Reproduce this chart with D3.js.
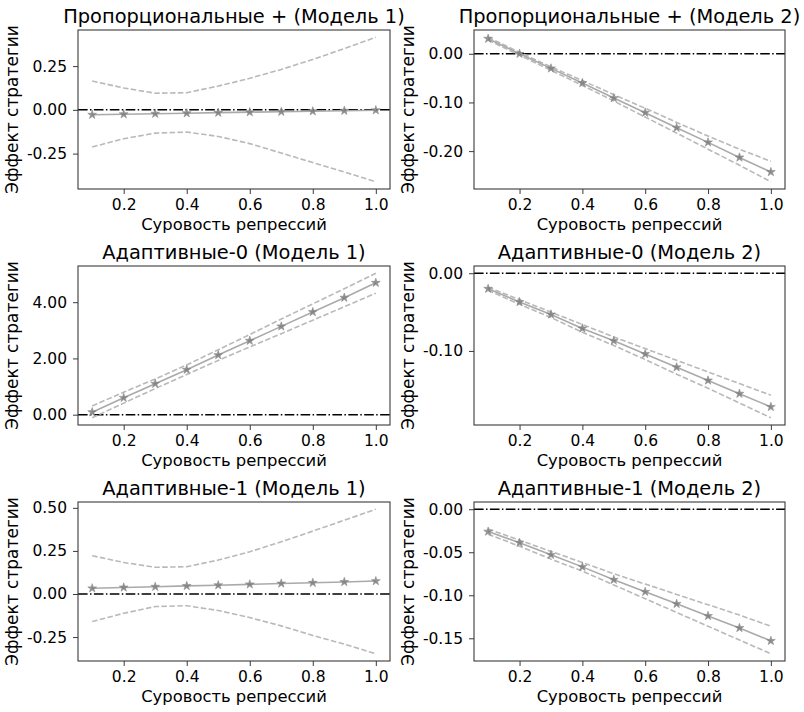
<!DOCTYPE html>
<html>
<head>
<meta charset="utf-8">
<script src="https://cdn.jsdelivr.net/npm/d3@7"></script>
<style>
  body { margin: 0; background: #fff; }
  svg { display: block; font-family: "DejaVu Sans", sans-serif; }
</style>
</head>
<body>
<svg id="chart" width="804" height="712"></svg>
<script>
// ---- data ----
const severity = [0.1, 0.2, 0.3, 0.4, 0.5, 0.6, 0.7, 0.8, 0.9, 1.0];
const xTicks = [0.2, 0.4, 0.6, 0.8, 1.0];

const titles = [
  "Пропорциональные + (Модель 1)", "Пропорциональные + (Модель 2)",
  "Адаптивные-0 (Модель 1)", "Адаптивные-0 (Модель 2)",
  "Адаптивные-1 (Модель 1)", "Адаптивные-1 (Модель 2)"
];
const xLabel = "Суровость репрессий";
const yLabel = "Эффект стратегии";

// Пропорциональные + (Модель 1)
const prop1Est = [-0.028, -0.025, -0.022, -0.019, -0.016, -0.013, -0.011, -0.008, -0.005, -0.002];
const prop1Hi  = [0.165, 0.125, 0.095, 0.098, 0.136, 0.180, 0.231, 0.288, 0.350, 0.415];
const prop1Lo  = [-0.212, -0.165, -0.133, -0.127, -0.152, -0.193, -0.247, -0.301, -0.355, -0.411];
const prop1Ticks = [-0.25, 0, 0.25];

// Пропорциональные + (Модель 2)
const prop2Est = [0.031, 0.000, -0.030, -0.060, -0.091, -0.121, -0.152, -0.182, -0.213, -0.243];
const prop2Hi  = [0.034, 0.003, -0.027, -0.055, -0.084, -0.112, -0.141, -0.169, -0.196, -0.221];
const prop2Lo  = [0.028, -0.003, -0.034, -0.065, -0.097, -0.130, -0.163, -0.196, -0.229, -0.263];
const prop2Ticks = [-0.2, -0.1, 0];

// Адаптивные-0 (Модель 1)
const adapt0m1Est = [0.09, 0.60, 1.10, 1.60, 2.12, 2.63, 3.14, 3.65, 4.16, 4.69];
const adapt0m1Hi  = [0.31, 0.80, 1.27, 1.77, 2.31, 2.85, 3.40, 3.94, 4.48, 5.03];
const adapt0m1Lo  = [-0.11, 0.41, 0.93, 1.43, 1.93, 2.41, 2.88, 3.36, 3.84, 4.32];
const adapt0m1Ticks = [0, 2, 4];

// Адаптивные-0 (Модель 2)
const adapt0m2Est = [-0.020, -0.037, -0.053, -0.071, -0.087, -0.104, -0.121, -0.138, -0.155, -0.172];
const adapt0m2Hi  = [-0.018, -0.034, -0.050, -0.066, -0.082, -0.097, -0.112, -0.127, -0.142, -0.157];
const adapt0m2Lo  = [-0.022, -0.040, -0.057, -0.076, -0.093, -0.111, -0.130, -0.148, -0.167, -0.186];
const adapt0m2Ticks = [-0.1, 0];

// Адаптивные-1 (Модель 1)
const adapt1m1Est = [0.033, 0.038, 0.042, 0.047, 0.051, 0.056, 0.061, 0.065, 0.070, 0.075];
const adapt1m1Hi  = [0.222, 0.183, 0.155, 0.158, 0.197, 0.245, 0.303, 0.365, 0.428, 0.492];
const adapt1m1Lo  = [-0.160, -0.112, -0.073, -0.068, -0.096, -0.137, -0.185, -0.241, -0.291, -0.347];
const adapt1m1Ticks = [-0.25, 0, 0.25, 0.5];

// Адаптивные-1 (Модель 2)
const adapt1m2Est = [-0.026, -0.039, -0.053, -0.067, -0.082, -0.096, -0.110, -0.124, -0.138, -0.153];
const adapt1m2Hi  = [-0.023, -0.036, -0.049, -0.062, -0.075, -0.087, -0.099, -0.111, -0.123, -0.136];
const adapt1m2Lo  = [-0.029, -0.043, -0.058, -0.072, -0.088, -0.104, -0.120, -0.136, -0.152, -0.168];
const adapt1m2Ticks = [-0.15, -0.1, -0.05, 0];

const panels = [
  {title: titles[0], est: prop1Est, hi: prop1Hi, lo: prop1Lo, ticks: prop1Ticks},
  {title: titles[1], est: prop2Est, hi: prop2Hi, lo: prop2Lo, ticks: prop2Ticks},
  {title: titles[2], est: adapt0m1Est, hi: adapt0m1Hi, lo: adapt0m1Lo, ticks: adapt0m1Ticks},
  {title: titles[3], est: adapt0m2Est, hi: adapt0m2Hi, lo: adapt0m2Lo, ticks: adapt0m2Ticks},
  {title: titles[4], est: adapt1m1Est, hi: adapt1m1Hi, lo: adapt1m1Lo, ticks: adapt1m1Ticks},
  {title: titles[5], est: adapt1m2Est, hi: adapt1m2Hi, lo: adapt1m2Lo, ticks: adapt1m2Ticks}
];

// ---- layout ----
const colX = [[78, 390], [474, 785]];
const rowY = [30, 266, 502];
const axH = 159;
const tickFont = 15.5, xLabelFont = 16.4, yLabelFont = 17, titleFont = 19.4;
const frameColor = "#3a3a3a";

const fmtY = v => (v < 0 ? "-" : "") + Math.abs(v).toFixed(2);
const fmtX = v => v.toFixed(1);

const svg = d3.select("#chart");

panels.forEach((p, i) => {
  const c = i % 2, r = Math.floor(i / 2);
  const [x0, x1] = colX[c];
  const y0 = rowY[r];
  const w = x1 - x0, h = axH;

  const g = svg.append("g").attr("transform", `translate(${x0},${y0})`);

  // x scale with matplotlib-like 5% margins
  const xe = d3.extent(severity);
  const xm = (xe[1] - xe[0]) * 0.05;
  const xs = d3.scaleLinear().domain([xe[0] - xm, xe[1] + xm]).range([0, w]);

  const allY = p.est.concat(p.hi, p.lo, [0]);
  const ye = d3.extent(allY);
  const ym = (ye[1] - ye[0]) * 0.05;
  const ys = d3.scaleLinear().domain([ye[0] - ym, ye[1] + ym]).range([h, 0]);

  const pts = k => severity.map((s, j) => [xs(s), ys(p[k][j])]);
  const line = d3.line();

  const clipId = "clip" + i;
  g.append("clipPath").attr("id", clipId)
    .append("rect").attr("width", w).attr("height", h);
  const plot = g.append("g").attr("clip-path", `url(#${clipId})`);

  // zero line (dash-dot)
  plot.append("line")
    .attr("x1", 0).attr("x2", w)
    .attr("y1", ys(0)).attr("y2", ys(0))
    .attr("stroke", "#000").attr("stroke-width", 1.5)
    .attr("stroke-dasharray", "9.6,2.4,1.5,2.4");

  // CI dashed lines
  ["hi", "lo"].forEach(k => {
    plot.append("path").attr("d", line(pts(k)))
      .attr("fill", "none").attr("stroke", "#b9b9b9")
      .attr("stroke-width", 1.6).attr("stroke-dasharray", "5.5,2.4");
  });

  // estimate line
  plot.append("path").attr("d", line(pts("est")))
    .attr("fill", "none").attr("stroke", "#aaaaaa").attr("stroke-width", 1.6);

  // star markers
  const star = d3.symbol().type(d3.symbolStar).size(24);
  plot.selectAll("path.star").data(severity).enter().append("path")
    .attr("class", "star")
    .attr("transform", (s, j) => `translate(${xs(s)},${ys(p.est[j])})`)
    .attr("d", star)
    .attr("fill", "#7d7d7d").attr("fill-opacity", 0.85)
    .attr("stroke", "#8c8c8c").attr("stroke-width", 0.6);

  // axes
  const xAxis = d3.axisBottom(xs).tickValues(xTicks).tickFormat(fmtX)
    .tickSize(5).tickPadding(5);
  const gx = g.append("g").attr("transform", `translate(0,${h})`).call(xAxis);
  const yAxis = d3.axisLeft(ys).tickValues(p.ticks).tickFormat(fmtY)
    .tickSize(5).tickPadding(6);
  const gy = g.append("g").call(yAxis);
  [gx, gy].forEach(ax => {
    ax.select(".domain").remove();
    ax.selectAll("line").attr("stroke", frameColor).attr("stroke-width", 1);
    ax.selectAll("text").attr("fill", "#000")
      .style("font-size", tickFont + "px").style("font-family", "DejaVu Sans");
  });

  // frame
  g.append("rect").attr("x", 0).attr("y", 0).attr("width", w).attr("height", h)
    .attr("fill", "none").attr("stroke", frameColor).attr("stroke-width", 1.1);

  // title
  g.append("text").attr("x", w / 2).attr("y", -7)
    .attr("text-anchor", "middle").style("font-size", titleFont + "px")
    .attr("fill", "#000").text(p.title);

  // x label
  g.append("text").attr("x", w / 2).attr("y", h + 41)
    .attr("text-anchor", "middle").style("font-size", xLabelFont + "px")
    .attr("fill", "#000").text(xLabel);

  // y label
  g.append("text")
    .attr("transform", `translate(-60,${h / 2}) rotate(-90)`)
    .attr("text-anchor", "middle").style("font-size", yLabelFont + "px")
    .attr("fill", "#000").text(yLabel);
});
</script>
</body>
</html>
